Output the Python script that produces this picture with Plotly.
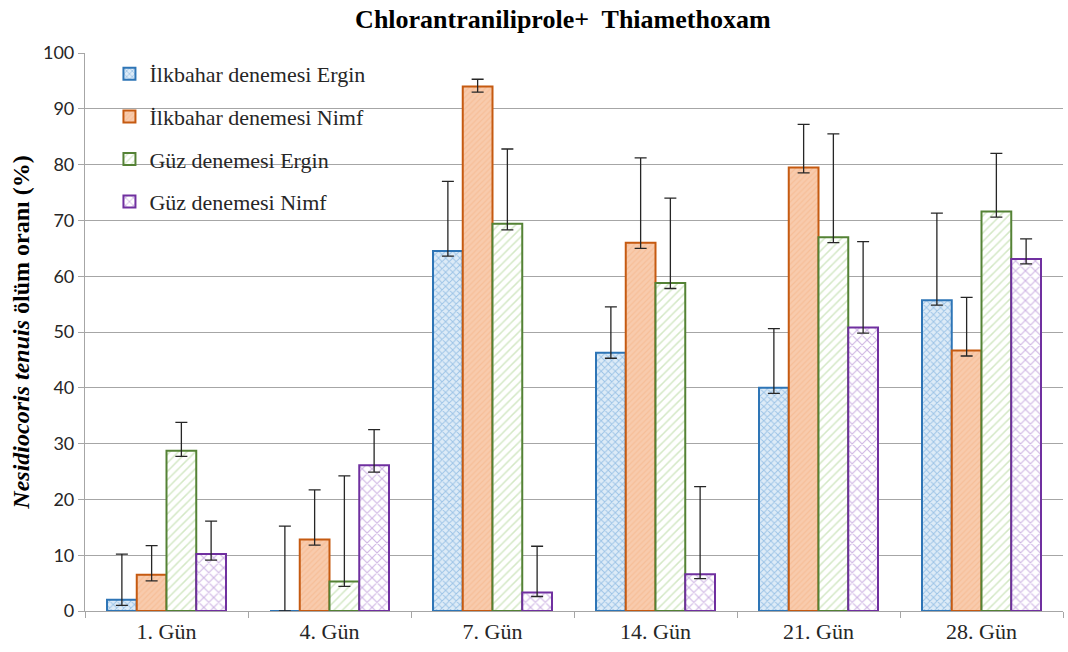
import plotly.graph_objects as go

categories = ["1. Gün", "4. Gün", "7. Gün", "14. Gün", "21. Gün", "28. Gün"]
series_names = ["İlkbahar denemesi Ergin", "İlkbahar denemesi Nimf",
                "Güz denemesi Ergin", "Güz denemesi Nimf"]
ilk_ergin = [2.0, 0.0, 64.5, 46.3, 40.0, 55.7]
ilk_nimf = [6.5, 12.8, 94.0, 66.0, 79.5, 46.7]
guz_ergin = [28.7, 5.3, 69.4, 58.8, 67.0, 71.6]
guz_nimf = [10.2, 26.1, 3.3, 6.6, 50.8, 63.1]
# error bar upper ends and lower ends
ilk_ergin_hi = [10.2, 15.2, 77.0, 54.5, 50.6, 71.3]
ilk_nimf_hi = [11.7, 21.7, 95.3, 81.2, 87.2, 56.2]
guz_ergin_hi = [33.8, 24.2, 82.8, 74.0, 85.5, 82.0]
guz_nimf_hi = [16.1, 32.5, 11.6, 22.3, 66.2, 66.7]
ilk_ergin_lo = [1.0, 0.0, 63.6, 45.3, 39.0, 54.8]
ilk_nimf_lo = [5.4, 11.8, 93.0, 65.0, 78.5, 45.7]
guz_ergin_lo = [27.7, 4.4, 68.3, 57.8, 66.0, 70.6]
guz_nimf_lo = [9.1, 24.9, 2.6, 5.8, 49.8, 62.2]

styles = [
    dict(line="#2E75B6", bg="#DDEBF7", fg="#5B9BD5", shape="x", size=5, sol=0.35),
    dict(line="#C55A11", bg="#F8CBAD", fg="#F4B183", shape="/", size=4, sol=0.3),
    dict(line="#548235", bg="#FFFFFF", fg="#A9D18E", shape="/", size=6, sol=0.25),
    dict(line="#7030A0", bg="#FFFFFF", fg="#9E6CC8", shape="x", size=7, sol=0.3),
]
vals = [ilk_ergin, ilk_nimf, guz_ergin, guz_nimf]
his = [ilk_ergin_hi, ilk_nimf_hi, guz_ergin_hi, guz_nimf_hi]
los = [ilk_ergin_lo, ilk_nimf_lo, guz_ergin_lo, guz_nimf_lo]

SERIF = "Liberation Serif, Times New Roman, serif"

fig = go.Figure()
for i, name in enumerate(series_names):
    s = styles[i]
    v = vals[i]
    fig.add_trace(go.Bar(
        x=categories, y=v, name=name, legendgroup=str(i),
        marker=dict(color=s["bg"], line=dict(color=s["line"], width=2),
                    pattern=dict(shape=s["shape"], fgcolor=s["fg"], bgcolor=s["bg"],
                                 size=s["size"], solidity=s["sol"], fillmode="overlay")),
        error_y=dict(type="data", symmetric=False,
                     array=[h - a for h, a in zip(his[i], v)],
                     arrayminus=[a - l for a, l in zip(v, los[i])],
                     color="#262626", thickness=1.3, width=6),
    ))

fig.update_layout(
    width=1068, height=652,
    margin=dict(l=85, r=5, t=53, b=41),
    paper_bgcolor="white", plot_bgcolor="white",
    barmode="group", bargap=0.27, bargroupgap=0,
    title=dict(text="<b>Chlorantraniliprole+  Thiamethoxam</b>", x=0.527, xanchor="center",
               y=0.985, yanchor="top",
               font=dict(family=SERIF, size=26, color="black")),
    font=dict(family=SERIF, size=20, color="#262626"),
    legend=dict(x=0.025, y=1.0, xanchor="left", yanchor="top",
                font=dict(family=SERIF, size=22, color="#262626"),
                tracegroupgap=11, bgcolor="rgba(255,255,255,0)", itemwidth=30),
    showlegend=True,
)
fig.update_xaxes(showline=True, linecolor="#A6A6A6", linewidth=1.2,
                 ticks="outside", tickson="boundaries", ticklen=6, tickcolor="#A6A6A6",
                 tickfont=dict(family=SERIF, size=22, color="#262626"))
fig.update_yaxes(range=[0, 100], dtick=10, showgrid=True, gridcolor="#A6A6A6", gridwidth=1,
                 showline=True, linecolor="#A6A6A6", linewidth=1.2,
                 ticks="outside", ticklen=6, tickcolor="#A6A6A6",
                 tickfont=dict(family="Lato, sans-serif", size=18, color="#262626"),
                 zeroline=False,
                 title=dict(text="<b><i>Nesidiocoris tenuis</i> ölüm oranı (%)</b>",
                            font=dict(family=SERIF, size=24, color="black"),
                            standoff=6))

fig.write_html("out.html")
